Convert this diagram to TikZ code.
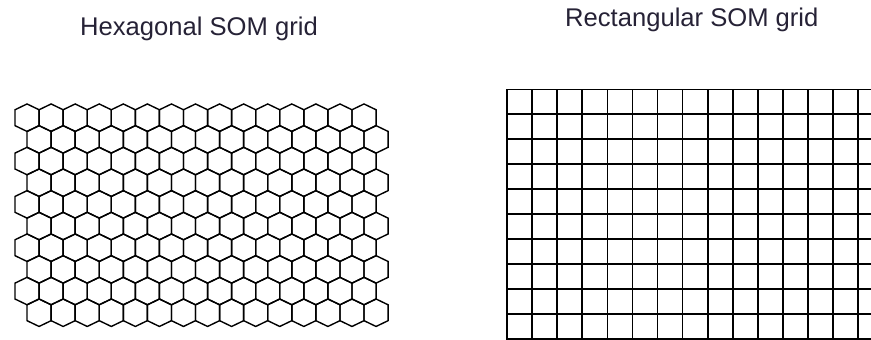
\documentclass[tikz,border=0pt]{standalone}
\usepackage{fontspec}
\setmainfont{Liberation Sans}
\definecolor{titlecol}{HTML}{262236}
\begin{document}
\begin{tikzpicture}[x=1pt,y=-1pt,
  hexline/.style={line width=1.4pt, black, line join=miter},
  gridline/.style={line width=1.6pt, black, line cap=rect},
  title/.style={font=\fontsize{25.6}{30}\selectfont, text=titlecol, anchor=base west, inner sep=0pt}]
\useasboundingbox (0,0) rectangle (871,340);
\fill[white] (0,0) rectangle (871,340);
% titles
\node[title] (hextitle) at (80,35) {Hexagonal SOM grid};
\node[title] (recttitle) at (565,26) {Rectangular SOM grid};
% hexagonal grid: 10 rows of 15 pointy-top cells
\foreach \j in {0,...,9} {
  \pgfmathsetmacro\cy{117.7+21.67*\j}
  \pgfmathsetmacro\off{mod(\j,2)*12.035}
  \foreach \k in {0,...,14} {
    \pgfmathsetmacro\cx{27.04+\off+24.07*\k}
    \draw[hexline] (\cx,\cy-13.735) -- ++(12.035,5.8) -- ++(0,15.87) -- ++(-12.035,5.8) -- ++(-12.035,-5.8) -- ++(0,-15.87) -- cycle;
  }
}
% rectangular grid, cut by the right and bottom edges
\begin{scope}
\clip (0,0) rectangle (871,340);
\foreach \k in {0,...,14} \draw[gridline] (507+25.09*\k,89.3) -- (507+25.09*\k,350);
\foreach \j in {0,...,10} \draw[gridline] (507,89.3+24.97*\j) -- (880,89.3+24.97*\j);
\end{scope}
\end{tikzpicture}
\end{document}
